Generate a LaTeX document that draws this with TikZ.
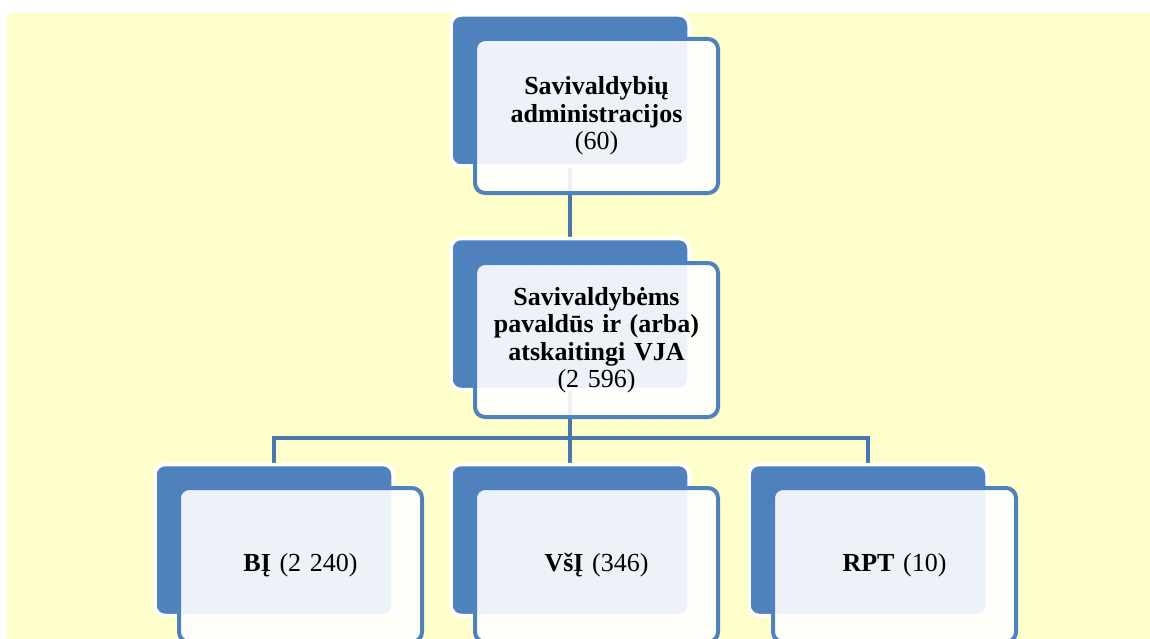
\documentclass[tikz,border=0pt]{standalone}
\usepackage{fontspec}
\setmainfont{Liberation Serif}
\definecolor{bgyellow}{HTML}{FFFFCC}
\definecolor{acc}{HTML}{4F81BD}
\definecolor{connc}{HTML}{4A78AE}
\pgfdeclarelayer{behind}
\pgfsetlayers{behind,main}
\begin{document}
\begin{tikzpicture}[x=1pt,y=-1pt,
 backbox/.style={rectangle, rounded corners=10pt, fill=acc, draw=white, line width=3.5pt, minimum width=238pt, minimum height=151pt, inner sep=0pt},
 frontbox/.style={rectangle, rounded corners=10pt, fill=white, fill opacity=0.9, text opacity=1, draw=acc, draw opacity=1, line width=4pt, minimum width=243pt, minimum height=154pt, align=center, font=\fontsize{26}{27.5}\selectfont, text width=235pt, inner sep=0pt},
 connline/.style={draw=connc, line width=4pt}]
\useasboundingbox (0,0) rectangle (1150,639);
% back boxes
\node[backbox] (t0) at (570,90.5) {};
\node[backbox] (m0) at (570,314) {};
\node[backbox] (l0) at (274,540) {};
\node[backbox] (c0) at (570,540) {};
\node[backbox] (r0) at (868,540) {};
% front boxes
\node[frontbox] (t1) at (596.5,116) {\textbf{Savivaldybių}\\\textbf{administracijos}\\(60)};
\node[frontbox] (m1) at (596.5,340) {\textbf{Savivaldybėms}\\\textbf{pavaldūs ir (arba)}\\\textbf{atskaitingi VJA}\\(2 596)};
\node[frontbox] (l1) at (300.5,565) {\textbf{BĮ} (2 240)};
\node[frontbox] (c1) at (596.5,565) {\textbf{VšĮ} (346)};
\node[frontbox] (r1) at (894.5,565) {\textbf{RPT} (10)};
\coordinate (bar) at (570,438);
\begin{pgfonlayer}{behind}
\fill[white] (0,0) rectangle (1150,639);
\fill[bgyellow] (7,13) rectangle (1150,639);
\draw[connline] (t0.south) -- (m0.north);
\draw[connline] (m0.south) -- (bar);
\draw[connline] (bar) -| (l0.north);
\draw[connline] (bar) -- (c0.north);
\draw[connline] (bar) -| (r0.north);
\end{pgfonlayer}
\end{tikzpicture}
\end{document}
